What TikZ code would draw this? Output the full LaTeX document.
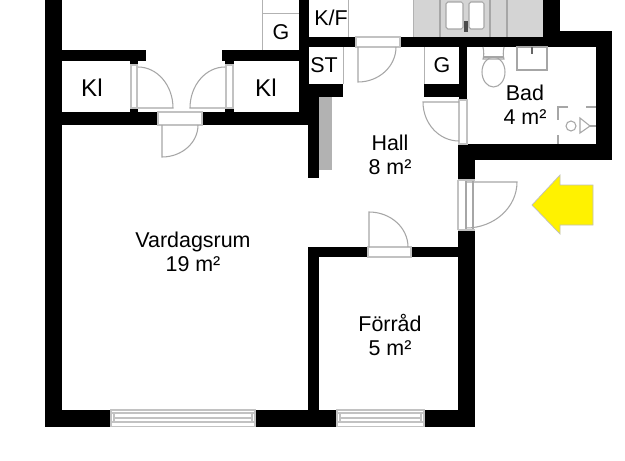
\documentclass[tikz,border=0pt]{standalone}
\usepackage{fontspec}
\setmainfont{Liberation Sans}
\begin{document}
\begin{tikzpicture}[x=0.02cm,y=0.02cm]
\tikzstyle{every node}+=[inner sep=0pt,align=center,font=\fontsize{12.2}{13.6}\selectfont]
\tikzstyle{wall}=[fill=black]
\tikzstyle{fixture}=[draw=black!35,line width=0.6pt]
\tikzstyle{frame}=[draw=black!24,line width=0.6pt]
\tikzstyle{thin fixture}=[draw=black!30,line width=0.45pt]
\tikzstyle{large label}=[font=\fontsize{13.8}{15}\selectfont]
\useasboundingbox (0,0) rectangle (625,-460);
\fill [white] (0,0) rectangle (625,-460);
% kitchen bench
\fill [black!17] (413,0) rectangle (543,-37);
\draw [thin fixture] (413,0) -- (413,-37);
\draw [fixture] (440,0) -- (440,-37);
\draw [fixture] (490,0) -- (490,-37);
\draw [fixture] (507,0) -- (507,-37);
\draw [fixture,fill=white,rounded corners=1] (446,-2) rectangle (463,-29);
\draw [fixture,fill=white,rounded corners=1] (469,-2) rectangle (484,-29);
\draw [black!70,line width=1.8pt] (466,-21) -- (466,-32);
% closets
\draw [thin fixture] (262,0) -- (262,-50);
\draw [thin fixture] (262,-13) -- (299,-13);
\draw [thin fixture] (348,0) -- (348,-37);
\draw [thin fixture] (343,-47) -- (343,-84);
\draw [thin fixture] (424,-47) -- (424,-84);
\fill [black!30] (319,-97) rectangle (332,-170);
% walls
\fill [wall] (45,0) rectangle (62,-426.5);
\fill [wall] (45,-410) rectangle (111,-426.5);
\fill [wall] (255,-410) rectangle (337,-426.5);
\fill [wall] (424,-410) rectangle (475,-426.5);
\fill [wall] (308,-247) rectangle (319,-426.5);
\fill [wall] (308,-247) rectangle (368,-257);
\fill [wall] (411,-247) rectangle (475,-257);
\fill [wall] (458,-230) rectangle (475,-426.5);
\fill [wall] (458,-144) rectangle (475,-180);
\fill [wall] (458,-144) rectangle (612,-160);
\fill [wall] (596,-31) rectangle (612,-160);
\fill [wall] (543,-31) rectangle (612,-47);
\fill [wall] (543,0) rectangle (560,-47);
\fill [wall] (400,-37) rectangle (560,-47);
\fill [wall] (309,-37) rectangle (356,-47);
\fill [wall] (299,0) rectangle (309,-125);
\fill [wall] (309,-84) rectangle (343,-97);
\fill [wall] (424,-84) rectangle (459,-97);
\fill [wall] (459,-47) rectangle (467,-100);
\fill [wall] (308,-84) rectangle (319,-178);
\fill [wall] (62,-112) rectangle (158,-125);
\fill [wall] (202,-112) rectangle (319,-125);
\fill [wall] (62,-50) rectangle (146,-61);
\fill [wall] (222,-50) rectangle (299,-61);
\fill [wall] (130,-61) rectangle (138,-65);
\fill [wall] (130,-108) rectangle (138,-112);
\fill [wall] (225,-61) rectangle (234,-65);
\fill [wall] (225,-108) rectangle (234,-112);
% door frames
\draw [frame] (131,-65) rectangle (137,-108);
\draw [frame] (226,-65) rectangle (233,-108);
\draw [frame] (158,-112) rectangle (202,-125);
\draw [frame] (356,-37) rectangle (400,-47);
\draw [frame] (459,-100) rectangle (467,-144);
\draw [frame] (368,-247) rectangle (411,-257);
\draw [frame] (458,-180) -- (458,-230);
\draw [fixture] (466,-180) -- (466,-230);
\draw [fixture] (473,-180) -- (473,-230);
\draw [frame] (458,-180) -- (475,-180);
\draw [frame] (458,-230) -- (475,-230);
% door swings
\draw [fixture] (138,-108) -- (173,-108) arc [start angle=0,end angle=90,x radius=35,y radius=41];
\draw [fixture] (225,-108) -- (190,-108) arc [start angle=180,end angle=90,x radius=35,y radius=41];
\draw [fixture] (162,-125) -- (162,-157) arc [start angle=-90,end angle=0,x radius=36,y radius=32];
\draw [fixture] (358,-47) -- (358,-82) arc [start angle=-90,end angle=0,x radius=38,y radius=35];
\draw [fixture] (459,-102) -- (423,-102) arc [start angle=180,end angle=270,x radius=36,y radius=39];
\draw [fixture] (466,-182) -- (517,-182) arc [start angle=0,end angle=-90,x radius=51,y radius=46];
\draw [fixture] (369,-247) -- (369,-212) arc [start angle=90,end angle=0,x radius=39,y radius=35];
% windows
\draw [frame] (111,-410) rectangle (255,-426.5);
\draw [frame] (111,-413) -- (255,-413);
\draw [frame] (114,-418) -- (252,-418);
\draw [frame] (111,-422) -- (255,-422);
\draw [frame] (114,-414) -- (114,-422);
\draw [frame] (252,-414) -- (252,-422);
\draw [frame] (337,-410) rectangle (424,-426.5);
\draw [frame] (337,-413) -- (424,-413);
\draw [frame] (340,-418) -- (421,-418);
\draw [frame] (337,-422) -- (424,-422);
\draw [frame] (340,-414) -- (340,-422);
\draw [frame] (421,-414) -- (421,-422);
% toilet
\draw [fixture] (483,-47) .. controls (484,-52) and (484,-56) .. (483,-59) -- (504,-59) .. controls (503,-56) and (503,-52) .. (504,-47);
\draw [fixture,line width=1pt] (483,-57) -- (504,-57);
\draw [fixture] (493.5,-72) ellipse (11.5 and 15);
% basin
\draw [fixture,line width=0.9pt] (517,-47) rectangle (547,-70);
\draw [black!60,line width=0.6pt] (532,-47) -- (532,-54);
% shower
\draw [fixture] (568,-107) -- (558,-107) -- (558,-120);
\draw [fixture] (558,-135) -- (558,-144);
\draw [fixture] (586,-107) -- (596,-107);
\draw [fixture] (571,-126) circle (5);
\draw [fixture] (580,-118) -- (580,-133) -- (590,-126) -- cycle;
\draw [fixture] (590,-126) -- (596,-126);
% entrance arrow
\draw [fill=yellow,draw=black!25,line width=0.4pt] (532,-205) -- (560,-175) -- (560,-185) -- (593,-185) -- (593,-225) -- (560,-225) -- (560,-234) -- cycle;
% labels
\node (vardagsrum) at (193,-252) {Vardagsrum\\19 m²};
\node (hall) at (390,-155) {Hall\\8 m²};
\node (bad) at (525,-105) {Bad\\4 m²};
\node (forrad) at (390,-335) {Förråd\\5 m²};
\node [large label] (kl left) at (92,-88) {Kl};
\node [large label] (kl right) at (266,-88) {Kl};
\node (st) at (324,-65) {ST};
\node (kf) at (331,-18) {K/F};
\node (g left) at (281,-32) {G};
\node (g right) at (442,-65) {G};
\end{tikzpicture}
\end{document}
